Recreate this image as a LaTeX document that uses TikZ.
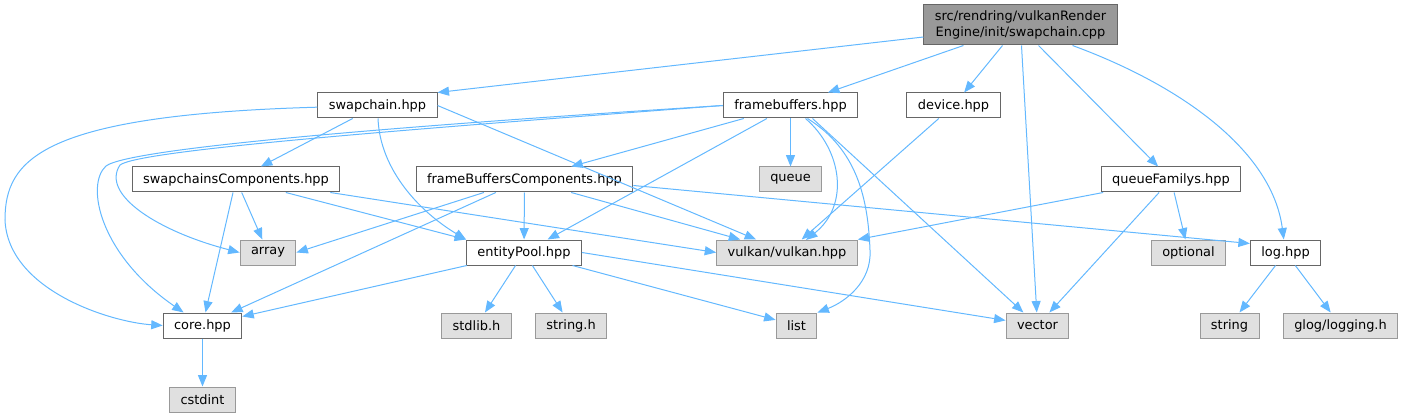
\documentclass[tikz,border=0pt]{standalone}
\usepackage{fontspec}
\setmainfont{DejaVu Sans}
\usetikzlibrary{arrows.meta, calc, positioning}
\definecolor{edgeblue}{HTML}{63B8FF}
\definecolor{sysfill}{HTML}{E0E0E0}
\definecolor{rootfill}{HTML}{999999}
\begin{document}
\begin{tikzpicture}[x=0.75pt, y=-0.75pt, font=\fontsize{9.7}{11.6}\selectfont]
    \tikzstyle{hdr} = [rectangle, draw=black!60, fill=white, inner xsep=8.2pt, inner ysep=0pt,
                       minimum height=18.75pt, line width=0.75pt]
    \tikzstyle{sys} = [hdr, draw=black!40, fill=sysfill]
    \tikzstyle{dep} = [-{Triangle[length=8.6pt, width=6.8pt]}, edgeblue, line width=0.75pt]

    \useasboundingbox (0,0) rectangle (1403,417);

    % rows of the include graph
    \node (root) [hdr, fill=rootfill, minimum height=30pt, align=center] at (1020.5,25)
                 {src/rendring/vulkanRender\\Engine/init/swapchain.cpp};

    \node (swap)   [hdr] at (377.5,105.5) {swapchain.hpp};
    \node (fb)     [hdr] at (790.5,105.5) {framebuffers.hpp};
    \node (dev)    [hdr] at (953.5,105.5) {device.hpp};

    \node (swcomp) [hdr] at (236,179.5)   {swapchainsComponents.hpp};
    \node (fbcomp) [hdr] at (524.5,179.5) {frameBuffersComponents.hpp};
    \node (queue)  [sys] at (790.5,179.5) {queue};
    \node (qfam)   [hdr] at (1171,179.5)  {queueFamilys.hpp};

    \node (arr)    [sys] at (268,252.5)    {array};
    \node (pool)   [hdr] at (524,252.5)    {entityPool.hpp};
    \node (vk)     [sys] at (787,252.5)    {vulkan/vulkan.hpp};
    \node (opt)    [sys] at (1188.5,252.5) {optional};
    \node (log)    [hdr] at (1285.5,252.5) {log.hpp};

    \node (core)   [hdr] at (202.5,325.5)  {core.hpp};
    \node (stdlib) [sys] at (476.5,325.5)  {stdlib.h};
    \node (strh)   [sys] at (571,325.5)    {string.h};
    \node (list)   [sys] at (796.5,325.5)  {list};
    \node (vec)    [sys] at (1037.5,325.5) {vector};
    \node (str)    [sys] at (1229.5,325.5) {string};
    \node (glog)   [sys] at (1340.5,325.5) {glog/logging.h};

    \node (cint)   [sys] at (202.5,399.5)  {cstdint};

    % swapchain.cpp
    \draw [dep] (root.west |- 0,37) -- (swap.north east);
    \draw [dep] ($(root.south west)+(40,0)$) -- (fb);
    \draw [dep] ($(root.south)+(-18,0)$) -- (dev);
    \draw [dep] ($(root.south)+(1,0)$) -- (vec);
    \draw [dep] ($(root.south)+(18,0)$) -- (qfam);
    \draw [dep] ($(root.south east)+(-45,0)$) .. controls (1180,85) and (1272,150) .. (log);

    % swapchain.hpp
    \draw [dep] (swap) .. controls (40,115) and (5,160) .. (5,220)
                       .. controls (8,290) and (110,322) .. (core.west);
    \draw [dep] (swap) -- (swcomp);
    \draw [dep] (swap) .. controls (380,170) and (420,212) .. (pool.north west);
    \draw [dep] (swap.east) -- (vk);

    % framebuffers.hpp
    \draw [dep] (fb.west) .. controls (400,126) and (130,148) .. (106,166)
                          .. controls (85,185) and (100,255) .. (core);
    \draw [dep] (fb.west) .. controls (400,130) and (140,150) .. (120,165)
                          .. controls (100,195) and (160,232) .. (arr.west);
    \draw [dep] (fb) -- (fbcomp);
    \draw [dep] (fb) -- (pool);
    \draw [dep] (fb) -- (queue);
    \draw [dep] ($(fb.south)+(15,0)$) .. controls (842,150) and (850,205) .. (806,240);
    \draw [dep] ($(fb.south)+(17,0)$) .. controls (858,150) and (868,200) .. (870,250)
                                     .. controls (872,282) and (845,302) .. (list.north east);
    \draw [dep] ($(fb.south)+(22,0)$) -- (vec);

    % device.hpp
    \draw [dep] (dev) -- (vk);

    % swapchainsComponents.hpp
    \draw [dep] (swcomp) -- (arr);
    \draw [dep] (swcomp) -- (core);
    \draw [dep] (swcomp) -- (pool.north west);
    \draw [dep] ($(swcomp.south east)+(-10,0)$) -- (vk.west);

    % frameBuffersComponents.hpp
    \draw [dep] (fbcomp) -- (arr.east);
    \draw [dep] (fbcomp) -- (core);
    \draw [dep] (fbcomp) -- (pool);
    \draw [dep] (fbcomp) -- (vk);
    \draw [dep] ($(fbcomp.east)+(0,6)$) -- ($(log.west)+(0,-9)$);

    % queueFamilys.hpp
    \draw [dep] (qfam) -- (vk.north east);
    \draw [dep] (qfam) -- (opt);
    \draw [dep] (qfam) -- (vec);

    % entityPool.hpp
    \draw [dep] (pool) -- (core);
    \draw [dep] (pool) -- (stdlib);
    \draw [dep] (pool) -- (strh);
    \draw [dep] (pool) -- (list);
    \draw [dep] (pool.east) -- (vec);

    % leaves
    \draw [dep] (core) -- (cint);
    \draw [dep] (log) -- (str);
    \draw [dep] (log) -- (glog);
\end{tikzpicture}
\end{document}
